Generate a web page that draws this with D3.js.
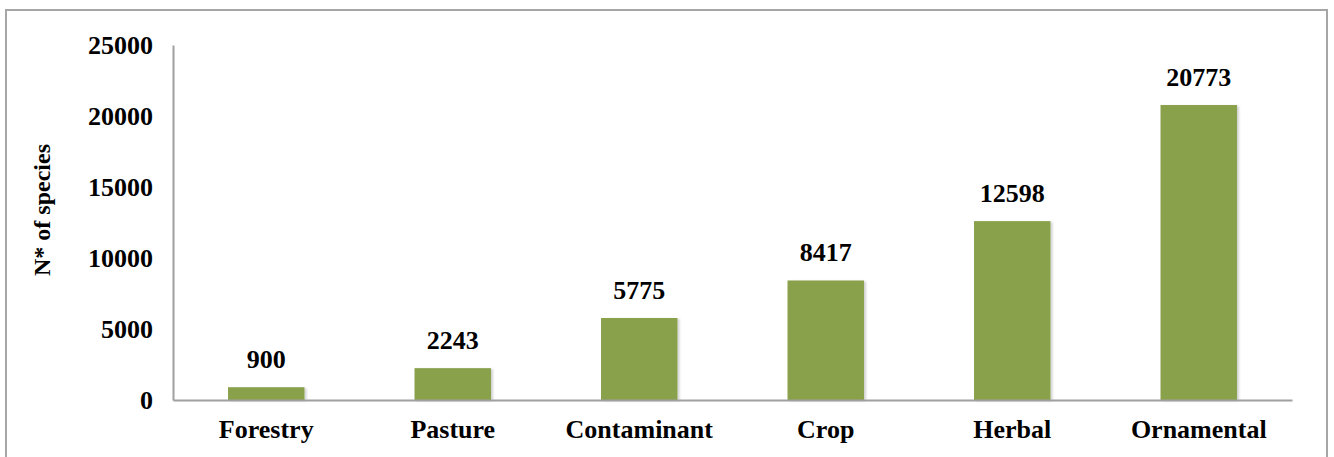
<!DOCTYPE html>
<html>
<head>
  <meta charset="utf-8">
  <title>N* of species by use</title>
  <script src="https://d3js.org/d3.v7.min.js"></script>
  <style>
    body { margin: 0; background: #fff; }
    svg text {
      font-family: "Liberation Serif", "Times New Roman", serif;
      font-weight: bold;
      fill: #000;
    }
  </style>
</head>
<body>
  <script>
    var categories = ["Forestry", "Pasture", "Contaminant", "Crop", "Herbal", "Ornamental"];
    var species = [900, 2243, 5775, 8417, 12598, 20773];
    var yTicks = [0, 5000, 10000, 15000, 20000, 25000];

    var width = 1334, height = 457;
    var plotLeft = 173, plotRight = 1292, plotTop = 45, plotBottom = 400;

    var svg = d3.select("body").append("svg")
      .attr("width", width)
      .attr("height", height);

    // drop shadow like the office chart
    var f = svg.append("defs").append("filter")
      .attr("id", "shadow")
      .attr("x", "-10%").attr("y", "-10%")
      .attr("width", "130%").attr("height", "130%");
    f.append("feDropShadow")
      .attr("dx", 2).attr("dy", 1)
      .attr("stdDeviation", 1.2)
      .attr("flood-color", "#000")
      .attr("flood-opacity", 0.18);

    // outer frame
    svg.append("rect")
      .attr("x", 6).attr("y", 10)
      .attr("width", 1321).attr("height", 470)
      .attr("fill", "none")
      .attr("stroke", "#a6a6a6")
      .attr("stroke-width", 2);

    var x = d3.scaleBand()
      .domain(categories)
      .range([plotLeft, plotRight])
      .paddingInner(0.59)
      .paddingOuter(0.295);

    var y = d3.scaleLinear()
      .domain([0, 25000])
      .range([plotBottom, plotTop]);

    var data = categories.map(function(c, i) {
      return { name: c, value: species[i] };
    });

    // bars
    svg.selectAll("rect.bar")
      .data(data)
      .enter()
      .append("rect")
      .attr("class", "bar")
      .attr("x", function(d) { return x(d.name); })
      .attr("y", function(d) { return y(d.value); })
      .attr("width", x.bandwidth())
      .attr("height", function(d) { return plotBottom - y(d.value); })
      .attr("fill", "#8aa14c")
      .attr("filter", "url(#shadow)");

    // y axis
    var yAxis = svg.append("g")
      .attr("transform", "translate(" + plotLeft + ",0)")
      .call(d3.axisLeft(y).tickValues(yTicks).tickSize(0).tickPadding(20).tickFormat(d3.format("d")));
    yAxis.select(".domain").attr("stroke", "#a0a0a0").attr("stroke-width", 2);
    yAxis.selectAll("text").style("font-size", "26px").attr("dy", "0.33em");

    // x axis
    var xAxis = svg.append("g")
      .attr("transform", "translate(0," + plotBottom + ")")
      .call(d3.axisBottom(x).tickSize(0).tickPadding(20));
    xAxis.select(".domain").attr("stroke", "#a0a0a0").attr("stroke-width", 2);
    xAxis.selectAll("text").style("font-size", "26px").attr("dy", "0.71em");

    // value labels
    svg.selectAll("text.val")
      .data(data)
      .enter()
      .append("text")
      .attr("class", "val")
      .attr("x", function(d) { return x(d.name) + x.bandwidth() / 2; })
      .attr("y", function(d) { return y(d.value) - 19; })
      .attr("text-anchor", "middle")
      .style("font-size", "26px")
      .text(function(d) { return d.value; });

    // y label
    svg.append("text")
      .attr("transform", "translate(50,210) rotate(-90)")
      .attr("text-anchor", "middle")
      .style("font-size", "24px")
      .text("N* of species");
  </script>
</body>
</html>
